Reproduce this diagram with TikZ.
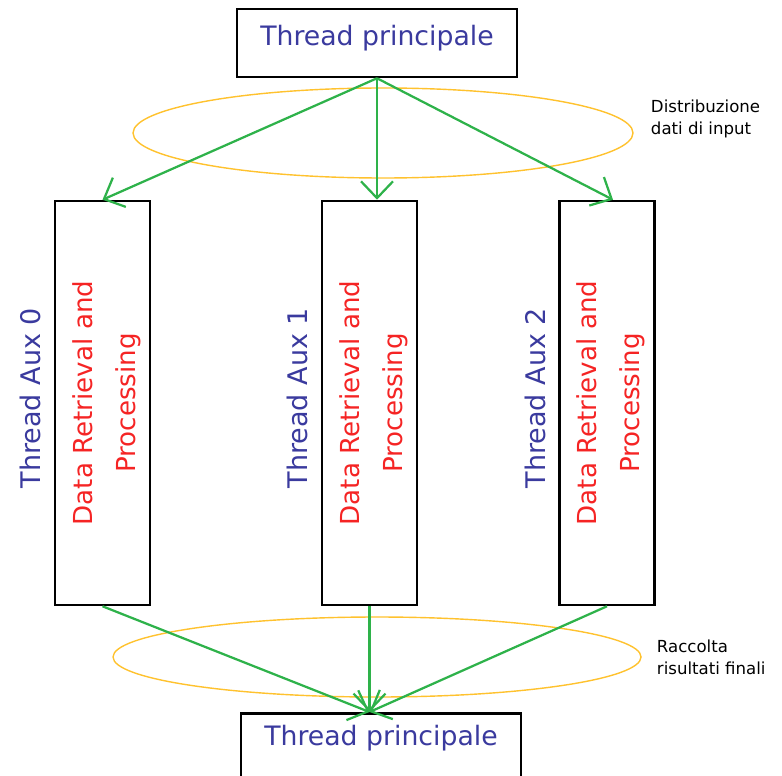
\documentclass[tikz,border=0pt]{standalone}
\usepackage{fontspec}
\setmainfont{DejaVu Sans}
\usetikzlibrary{arrows.meta,positioning,calc}
\definecolor{threadblue}{HTML}{3A3A9E}
\definecolor{procred}{HTML}{F52424}
\definecolor{flowgreen}{HTML}{2EB24A}
\definecolor{ringgold}{HTML}{FFC22E}

\begin{document}
\begin{tikzpicture}[
 main/.style={draw,line width=1.8pt,minimum width=7.0cm,text height=0.92cm,text depth=0.78cm,inner sep=0pt,text=threadblue,font=\fontsize{19}{21}\selectfont},
 aux/.style={draw,line width=1.8pt,minimum width=2.375cm,minimum height=10.1cm,inner sep=0pt},
 auxname/.style={rotate=90,text=threadblue,font=\fontsize{19.2}{21}\selectfont},
 work/.style={rotate=90,text=procred,align=center,font=\fontsize{18.6}{30.5}\selectfont},
 note/.style={anchor=west,align=left,font=\fontsize{11.8}{15.6}\selectfont},
 ring/.style={ringgold,line width=1pt},
 a/.style={-{Straight Barb[length=4.2mm,width=8mm,line width=1.6pt]},line width=1.6pt,flowgreen}]
\useasboundingbox (0,0) rectangle (19.55,-19.375);
\clip (0,0) rectangle (19.55,-19.375);

\draw[ring] (9.575,-3.325) ellipse [x radius=6.25cm,y radius=1.125cm];
\draw[ring] (9.425,-16.425) ellipse [x radius=6.6cm,y radius=1.0cm];

\node[main] (top) at (9.425,-1.075) {Thread principale};
\node[aux] (b0) at (2.5625,-10.075) {};
\node[aux] (b1) at (9.2375,-10.075) {};
\node[aux] (b2) at (15.175,-10.075) {};
\node[main,anchor=north,text height=0.8cm,text depth=1.5cm] (bot) at (9.525,-17.8) {Thread principale};

\foreach \i in {0,1,2}{
 \node[auxname] (n\i) at ($(b\i.west)+(-0.58,0.12)$) {Thread Aux \i};
 \node[work] (w\i) at ($(b\i.center)+(0.1,0)$) {Data Retrieval and\\Processing};
}

\node[note] (dist) at (16.15,-2.975) {Distribuzione\\dati di input};
\node[note] (racc) at (16.3,-16.425) {Raccolta\\risultati finali};

\draw[a] (top.south) -- (b0.north);
\draw[a] (top.south) -- (top.south |- b1.north);
\draw[a] (top.south) -- ($(b2.north)+(0.15,0)$);

\draw[a] (b0.south) -- (b1.south |- bot.north);
\draw[a] (b1.south) -- (b1.south |- bot.north);
\draw[a] (b2.south) -- (b1.south |- bot.north);
\end{tikzpicture}
\end{document}
